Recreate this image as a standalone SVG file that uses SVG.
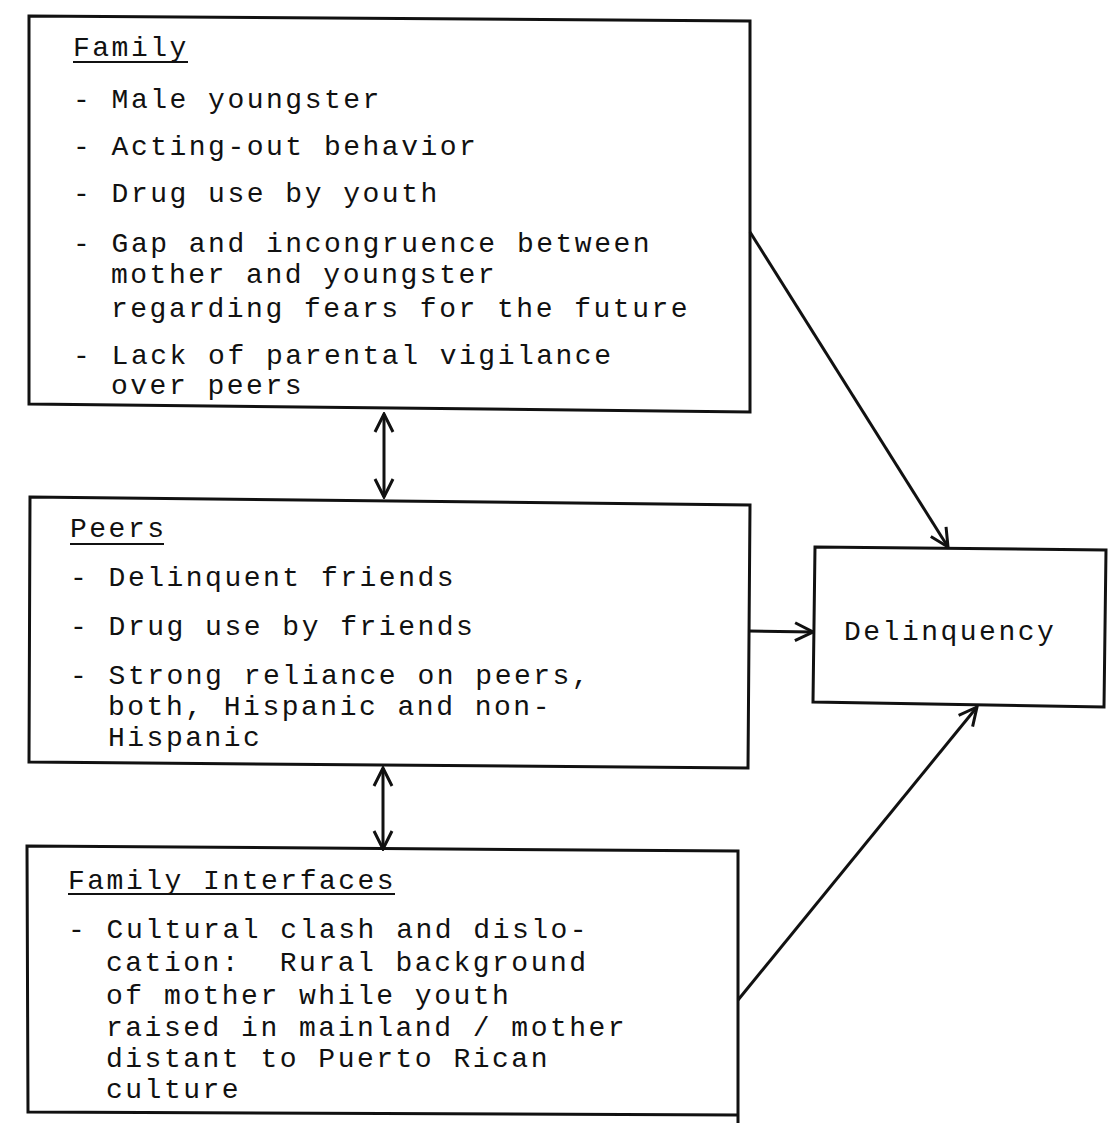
<svg xmlns="http://www.w3.org/2000/svg" width="1110" height="1123" viewBox="0 0 1110 1123">
  <defs>
    <style>
      .box { fill: none; stroke: #111; stroke-width: 3; stroke-linejoin: miter; }
      .t { font-family: "Liberation Mono", "DejaVu Sans Mono", monospace; font-size: 28px; letter-spacing: 2.5px; fill: #111; }
      .ul { stroke: #111; stroke-width: 2; }
      .conn { fill: none; stroke: #111; stroke-width: 3; }
    </style>
    <marker id="head" viewBox="0 0 24 24" refX="22" refY="12" markerWidth="24" markerHeight="24" markerUnits="userSpaceOnUse" orient="auto-start-reverse">
      <path d="M4,3 L22,12 L4,21" fill="none" stroke="#111" stroke-width="3"/>
    </marker>
  </defs>
  <rect width="1110" height="1123" fill="#fff"/>

  <!-- Family -->
  <g id="family">
    <polygon class="box" points="29,16 750,21 750,412 29,404"/>
    <text class="t" x="73" y="56">Family</text>
    <line class="ul" x1="73" y1="62" x2="188" y2="62"/>
    <text class="t" x="73" y="108">- Male youngster</text>
    <text class="t" x="73" y="155">- Acting-out behavior</text>
    <text class="t" x="73" y="202">- Drug use by youth</text>
    <text class="t" x="73" y="252">- Gap and incongruence between</text>
    <text class="t" x="111" y="283">mother and youngster</text>
    <text class="t" x="111" y="317">regarding fears for the future</text>
    <text class="t" x="73" y="364">- Lack of parental vigilance</text>
    <text class="t" x="111" y="394">over peers</text>
  </g>

  <!-- Peers -->
  <g id="peers">
    <polygon class="box" points="30,497 750,505 748,768 29,762"/>
    <text class="t" x="70" y="537">Peers</text>
    <line class="ul" x1="70" y1="544" x2="164" y2="544"/>
    <text class="t" x="70" y="586">- Delinquent friends</text>
    <text class="t" x="70" y="635">- Drug use by friends</text>
    <text class="t" x="70" y="684">- Strong reliance on peers,</text>
    <text class="t" x="108" y="715">both, Hispanic and non-</text>
    <text class="t" x="108" y="746">Hispanic</text>
  </g>

  <!-- Family Interfaces -->
  <g id="family-interfaces">
    <polyline class="box" points="738,1123 738,851 27,846 28,1112 738,1115"/>
    <text class="t" x="68" y="889">Family Interfaces</text>
    <line class="ul" x1="68" y1="894" x2="395" y2="894"/>
    <text class="t" x="68" y="938">- Cultural clash and dislo-</text>
    <text class="t" x="106" y="971" xml:space="preserve">cation:  Rural background</text>
    <text class="t" x="106" y="1004">of mother while youth</text>
    <text class="t" x="106" y="1036">raised in mainland / mother</text>
    <text class="t" x="106" y="1067">distant to Puerto Rican</text>
    <text class="t" x="106" y="1098">culture</text>
  </g>

  <!-- Delinquency -->
  <g id="delinquency">
    <polygon class="box" points="815,547 1106,550 1104,707 813,702"/>
    <text class="t" x="844" y="640">Delinquency</text>
  </g>

  <!-- Connectors -->
  <g id="connectors">
    <line class="conn" x1="384" y1="414" x2="384" y2="497" marker-start="url(#head)" marker-end="url(#head)"/>
    <line class="conn" x1="383" y1="768" x2="383" y2="849" marker-start="url(#head)" marker-end="url(#head)"/>
    <line class="conn" x1="750" y1="232" x2="948" y2="547" marker-end="url(#head)"/>
    <line class="conn" x1="749" y1="631" x2="813" y2="632" marker-end="url(#head)"/>
    <line class="conn" x1="738" y1="1000" x2="977" y2="707" marker-end="url(#head)"/>
  </g>
</svg>
